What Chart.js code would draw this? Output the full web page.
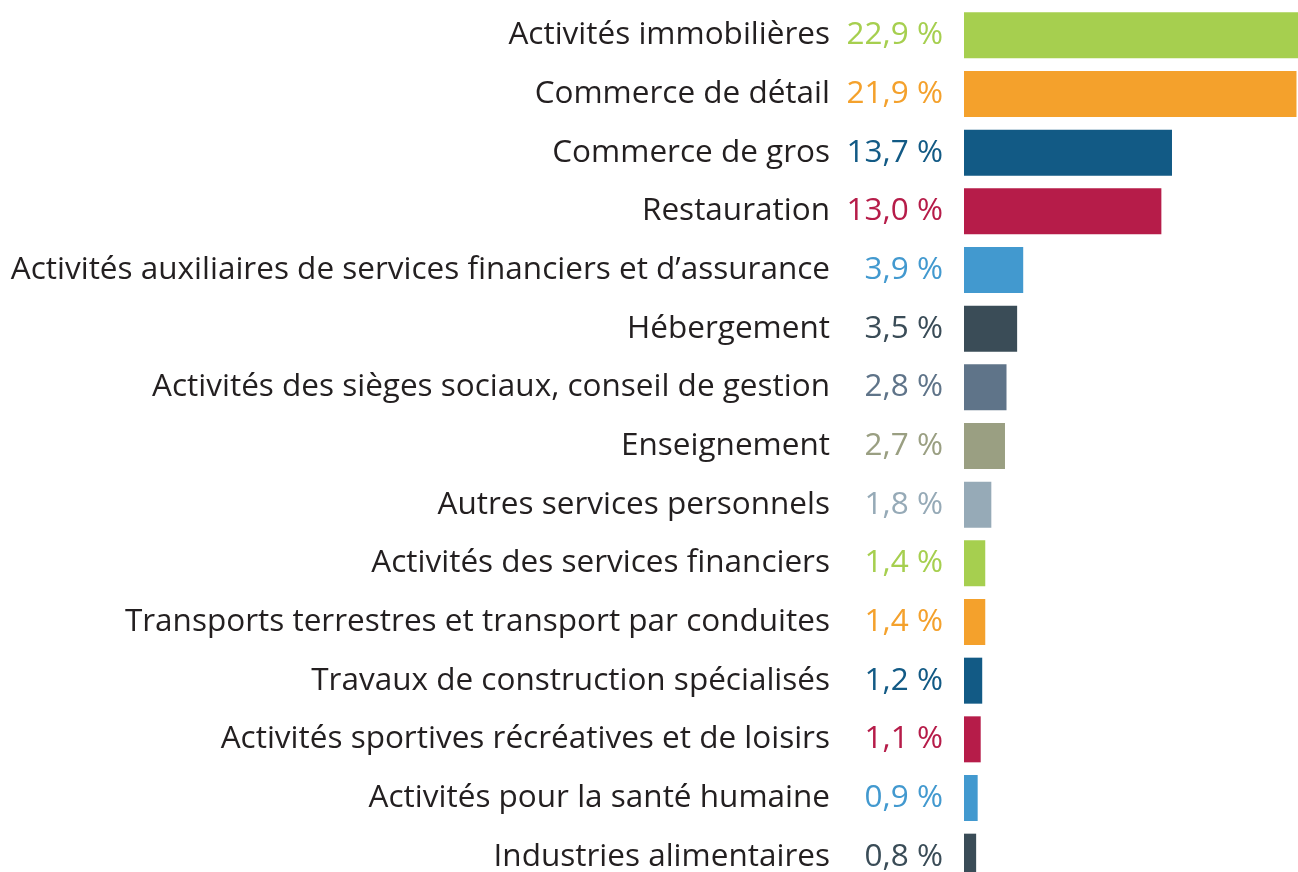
<!DOCTYPE html>
<html>
<head>
<meta charset="utf-8">
<script src="https://cdn.jsdelivr.net/npm/chart.js@4.4.1/dist/chart.umd.min.js"></script>
<style>
  html, body { margin: 0; padding: 0; background: #fff; overflow: hidden; }
  #wrap { width: 1298px; height: 886px; position: relative; }
</style>
</head>
<body>
<div id="wrap"><canvas id="sectors"></canvas></div>
<script>
'use strict';

const sectors = [
    'Activités immobilières',
    'Commerce de détail',
    'Commerce de gros',
    'Restauration',
    'Activités auxiliaires de services financiers et d’assurance',
    'Hébergement',
    'Activités des sièges sociaux, conseil de gestion',
    'Enseignement',
    'Autres services personnels',
    'Activités des services financiers',
    'Transports terrestres et transport par conduites',
    'Travaux de construction spécialisés',
    'Activités sportives récréatives et de loisirs',
    'Activités pour la santé humaine',
    'Industries alimentaires'
];
const shares = [22.9, 21.9, 13.7, 13.0, 3.9, 3.5, 2.8, 2.7, 1.8, 1.4, 1.4, 1.2, 1.1, 0.9, 0.8];
const barColors = [
    '#a6cf4f', '#f4a12c', '#125a85', '#b61c49', '#4299cf',
    '#3a4c57', '#5f7489', '#9a9f82', '#96aab7',
    '#a6cf4f', '#f4a12c', '#125a85', '#b61c49', '#4299cf', '#3a4c57'
];

const FONT = "'Open Sans', sans-serif";
const FONT_SIZE = 31.5;

// value labels, drawn just left of the bars
const valueLabels = {
    id: 'valueLabels',
    afterDatasetsDraw(chart) {
        const ctx = chart.ctx;
        const yScale = chart.scales.y;
        const x = chart.chartArea.left - 21;
        ctx.save();
        ctx.font = FONT_SIZE + 'px ' + FONT;
        ctx.textAlign = 'right';
        ctx.textBaseline = 'middle';
        shares.forEach((v, i) => {
            ctx.fillStyle = barColors[i];
            ctx.fillText(v.toFixed(1).replace('.', ',') + ' %', x, yScale.getPixelForValue(i));
        });
        ctx.restore();
    }
};

const canvas = document.getElementById('sectors');
new Chart(canvas, {
    type: 'bar',
    data: {
        labels: sectors,
        datasets: [{
            data: shares,
            backgroundColor: barColors,
            borderWidth: 0,
            categoryPercentage: 1,
            barPercentage: 0.784
        }]
    },
    options: {
        indexAxis: 'y',
        responsive: true,
        maintainAspectRatio: false,
        animation: false,
        layout: { padding: { top: 6, right: 0, bottom: 0, left: 0 } },
        plugins: {
            legend: { display: false },
            tooltip: { enabled: false }
        },
        scales: {
            x: {
                display: false,
                min: 0,
                max: 22
            },
            y: {
                afterFit(scale) {
                    scale.width = 964;
                    // tick padding would otherwise be added above and below too
                    scale.paddingTop = 0;
                    scale.paddingBottom = 0;
                },
                grid: { display: false, drawTicks: false },
                border: { display: false },
                ticks: {
                    padding: 134,
                    color: '#231f20',
                    font: { family: FONT, size: FONT_SIZE }
                }
            }
        }
    },
    plugins: [valueLabels]
});
</script>
</body>
</html>
